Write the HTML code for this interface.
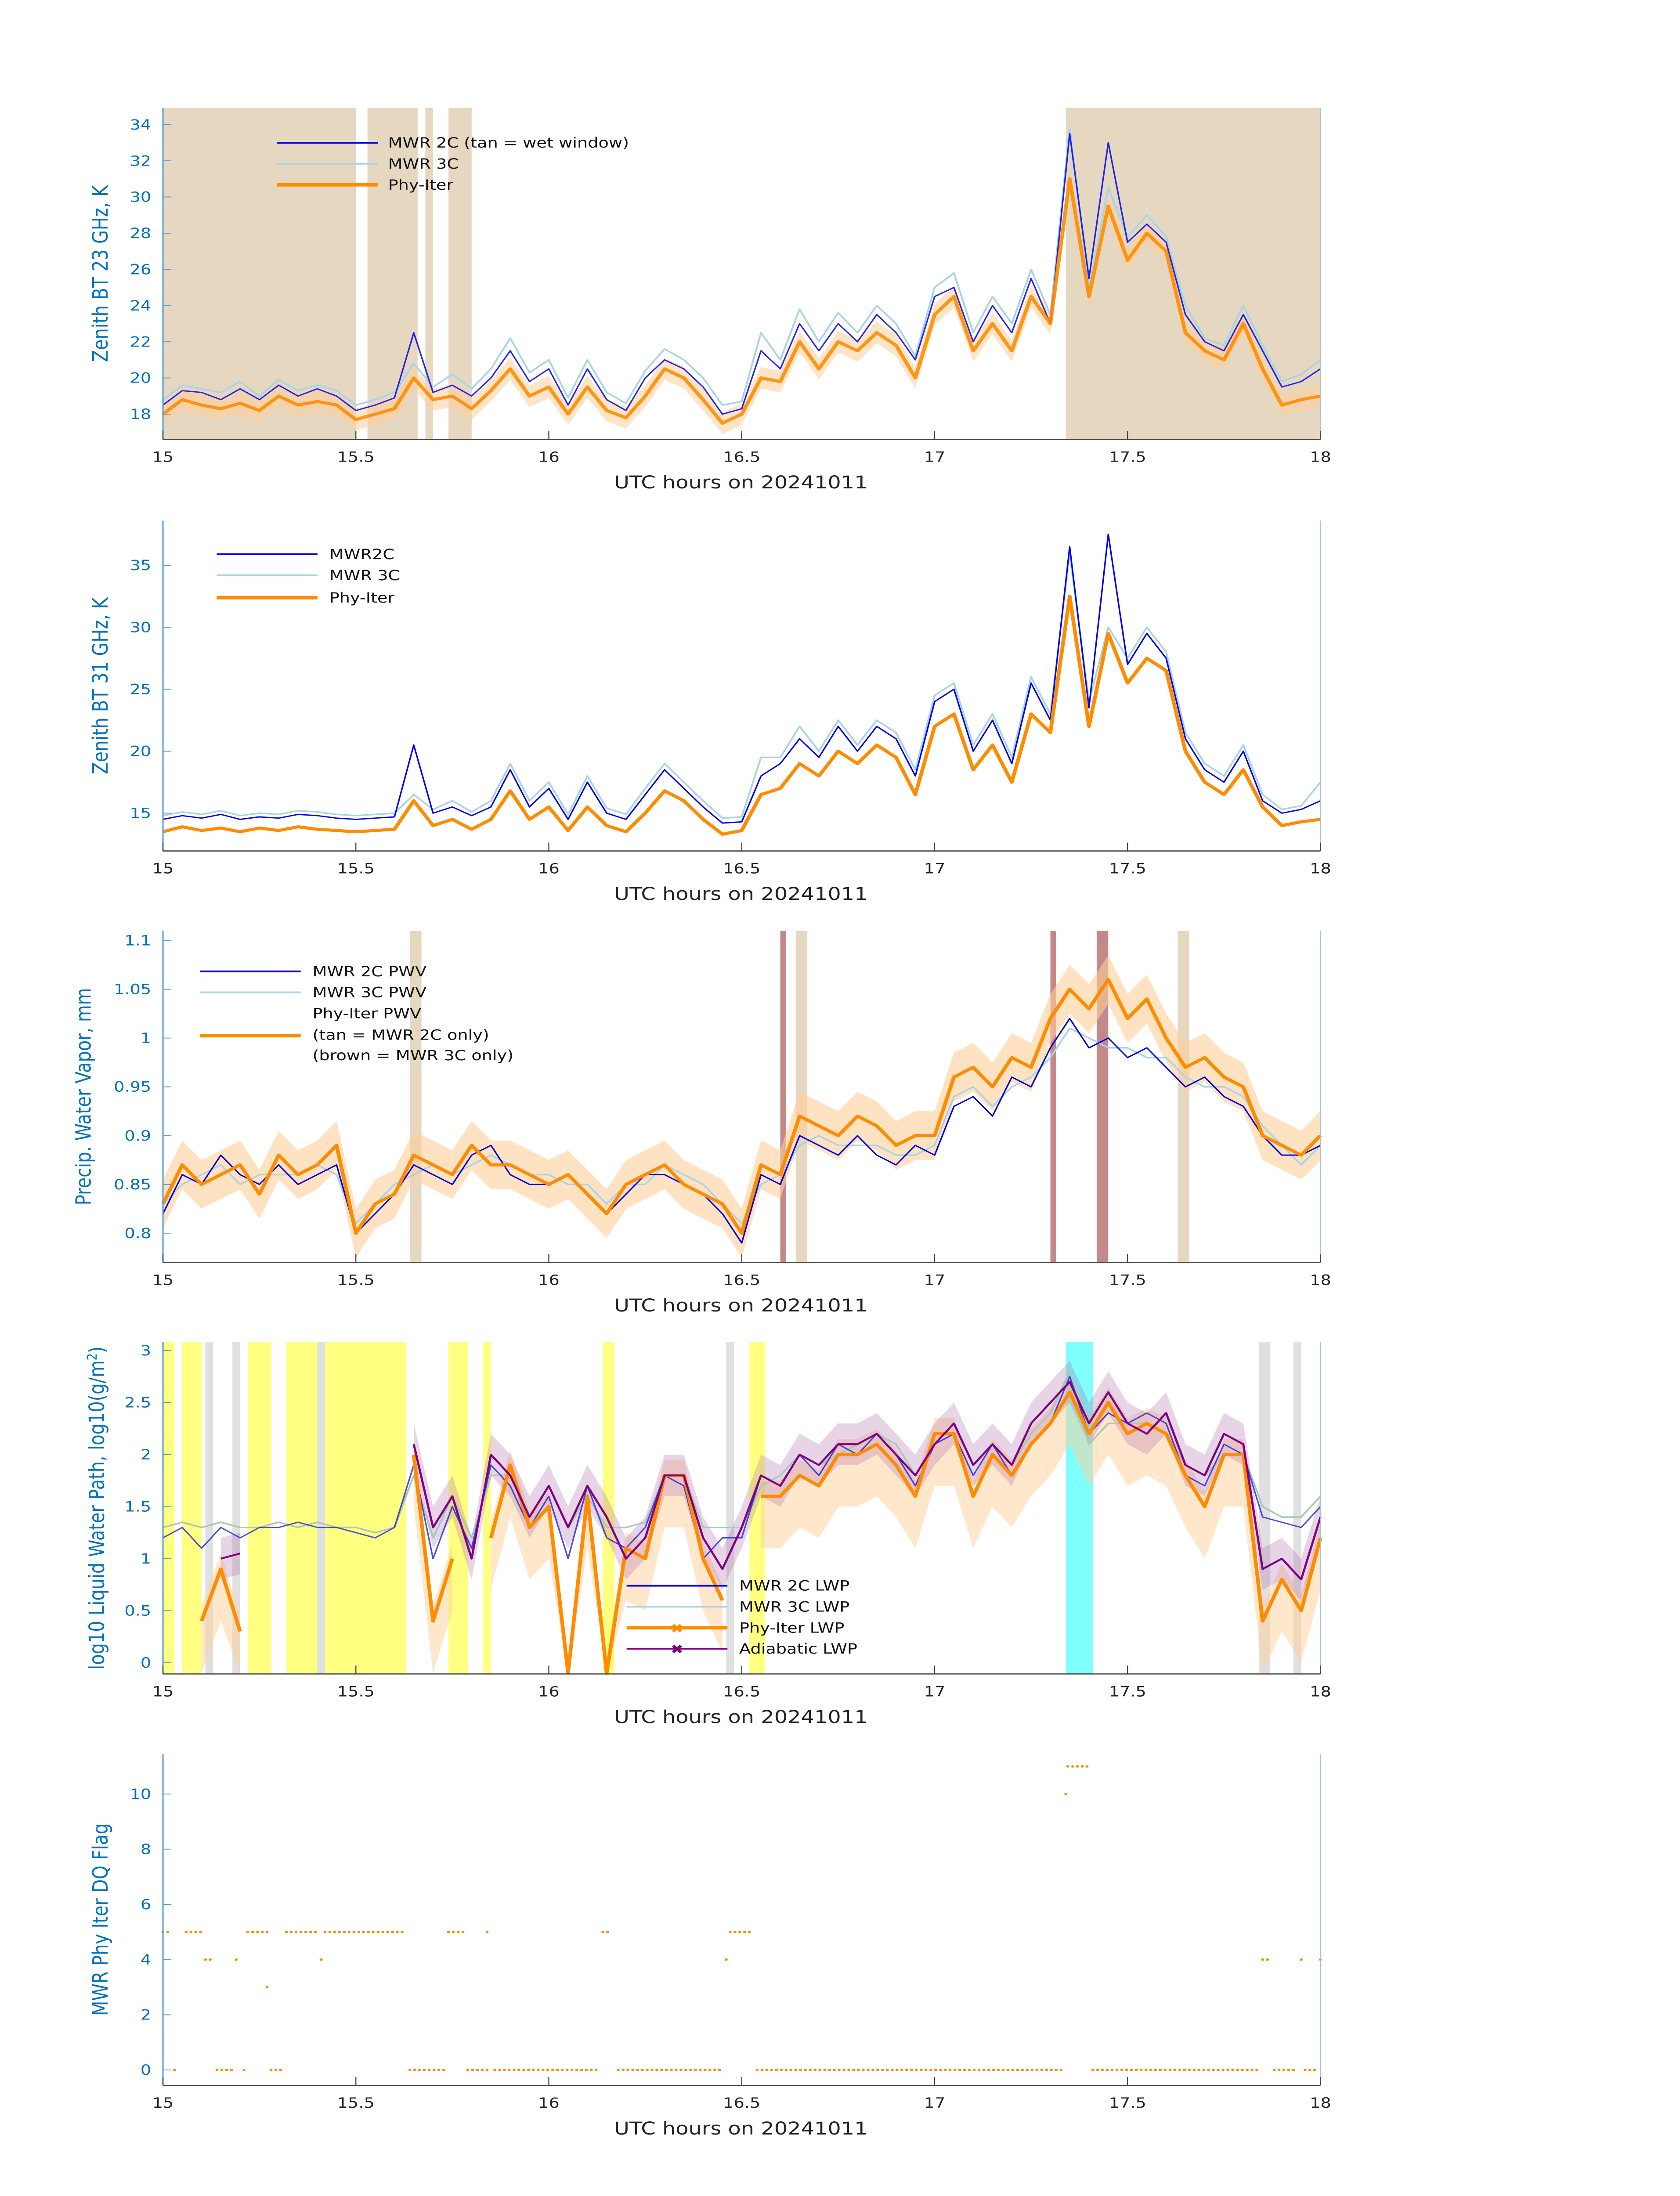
<!DOCTYPE html>
<html><head><meta charset="utf-8"><style>
html,body{margin:0;padding:0;background:#fff;width:100vw;height:100vh;overflow:hidden}
svg{display:block;position:absolute;left:0;top:0;width:100vw;height:100vh}
text{font-family:"DejaVu Sans","Liberation Sans",sans-serif}
</style></head><body>
<svg id="fig" xmlns="http://www.w3.org/2000/svg" viewBox="0 0 1000 1569" preserveAspectRatio="none"></svg>
<script>
const bt23Phy=[18.0,18.8,18.5,18.3,18.6,18.2,19.0,18.5,18.7,18.5,17.7,18.0,18.3,20.0,18.8,19.0,18.3,19.3,20.5,19.0,19.5,18.0,19.5,18.2,17.8,19.0,20.5,20.0,18.8,17.5,18.0,20.0,19.8,22.0,20.5,22.0,21.5,22.5,21.8,20.0,23.5,24.5,21.5,23.0,21.5,24.5,23.0,31.0,24.5,29.5,26.5,28.0,27.0,22.5,21.5,21.0,23.0,20.5,18.5,18.8,19.0];
const bt23M2=[18.5,19.3,19.2,18.8,19.4,18.8,19.6,19.0,19.4,19.0,18.2,18.5,18.9,22.5,19.2,19.6,19.0,20.0,21.5,19.8,20.5,18.5,20.5,18.8,18.2,20.0,21.0,20.5,19.5,18.0,18.3,21.5,20.5,23.0,21.5,23.0,22.0,23.5,22.5,21.0,24.5,25.0,22.0,24.0,22.5,25.5,23.0,33.5,25.5,33.0,27.5,28.5,27.5,23.5,22.0,21.5,23.5,21.5,19.5,19.8,20.5];
const bt23M3=[18.8,19.6,19.4,19.2,19.8,19.0,19.9,19.3,19.6,19.3,18.5,18.8,19.2,20.8,19.5,20.2,19.4,20.5,22.2,20.3,21.0,18.9,21.0,19.2,18.6,20.4,21.6,21.0,20.0,18.5,18.7,22.5,21.0,23.8,22.0,23.6,22.5,24.0,23.0,21.2,25.0,25.8,22.5,24.5,23.0,26.0,23.5,33.8,25.0,30.5,27.8,29.0,27.8,24.0,22.2,21.8,24.0,21.8,19.8,20.2,21.0];
const bt31Phy=[13.5,13.9,13.6,13.8,13.5,13.8,13.6,13.9,13.7,13.6,13.5,13.6,13.7,16.0,14.0,14.5,13.7,14.5,16.8,14.5,15.5,13.6,15.5,14.0,13.5,15.0,16.8,16.0,14.5,13.3,13.6,16.5,17.0,19.0,18.0,20.0,19.0,20.5,19.5,16.5,22.0,23.0,18.5,20.5,17.5,23.0,21.5,32.5,22.0,29.5,25.5,27.5,26.5,20.0,17.5,16.5,18.5,15.5,14.0,14.3,14.5];
const bt31M2=[14.5,14.8,14.6,14.9,14.5,14.7,14.6,14.9,14.8,14.6,14.5,14.6,14.7,20.5,15.0,15.5,14.8,15.5,18.5,15.5,17.0,14.5,17.5,15.0,14.5,16.5,18.5,17.0,15.5,14.2,14.3,18.0,19.0,21.0,19.5,22.0,20.0,22.0,21.0,18.0,24.0,25.0,20.0,22.5,19.0,25.5,22.5,36.5,23.5,37.5,27.0,29.5,27.5,21.0,18.5,17.5,20.0,16.0,15.0,15.3,16.0];
const bt31M3=[14.8,15.1,14.9,15.2,14.8,15.0,14.9,15.2,15.1,14.9,14.8,14.9,15.0,16.5,15.3,16.0,15.1,16.0,19.0,16.0,17.5,14.9,18.0,15.4,14.9,17.0,19.0,17.5,16.0,14.6,14.7,19.5,19.5,22.0,20.0,22.5,20.5,22.5,21.5,18.5,24.5,25.5,20.5,23.0,19.5,26.0,23.0,36.0,24.0,30.0,27.5,30.0,28.0,21.5,19.0,18.0,20.5,16.5,15.3,15.6,17.5];
const pwvPhy=[0.83,0.87,0.85,0.86,0.87,0.84,0.88,0.86,0.87,0.89,0.80,0.83,0.84,0.88,0.87,0.86,0.89,0.87,0.87,0.86,0.85,0.86,0.84,0.82,0.85,0.86,0.87,0.85,0.84,0.83,0.80,0.87,0.86,0.92,0.91,0.90,0.92,0.91,0.89,0.90,0.90,0.96,0.97,0.95,0.98,0.97,1.02,1.05,1.03,1.06,1.02,1.04,1.00,0.97,0.98,0.96,0.95,0.90,0.89,0.88,0.90];
const pwvM2=[0.82,0.86,0.85,0.88,0.86,0.85,0.87,0.85,0.86,0.87,0.80,0.82,0.84,0.87,0.86,0.85,0.88,0.89,0.86,0.85,0.85,0.86,0.84,0.82,0.84,0.86,0.86,0.85,0.84,0.82,0.79,0.86,0.85,0.90,0.89,0.88,0.90,0.88,0.87,0.89,0.88,0.93,0.94,0.92,0.96,0.95,0.99,1.02,0.99,1.00,0.98,0.99,0.97,0.95,0.96,0.94,0.93,0.90,0.88,0.88,0.89];
const pwvM3=[0.83,0.85,0.86,0.87,0.85,0.86,0.86,0.86,0.87,0.86,0.81,0.83,0.85,0.86,0.87,0.86,0.87,0.88,0.87,0.86,0.86,0.85,0.85,0.83,0.85,0.85,0.87,0.86,0.85,0.83,0.81,0.85,0.86,0.89,0.90,0.89,0.89,0.89,0.88,0.88,0.89,0.94,0.95,0.93,0.95,0.96,0.98,1.01,1.00,0.99,0.99,0.98,0.98,0.96,0.95,0.95,0.94,0.91,0.89,0.87,0.89];
const lwpM2=[1.2,1.3,1.1,1.3,1.2,1.3,1.3,1.35,1.3,1.3,1.25,1.2,1.3,1.9,1.0,1.5,1.1,1.9,1.7,1.3,1.6,1.0,1.7,1.2,1.1,1.3,1.8,1.7,1.0,1.2,1.2,1.8,1.7,2.0,1.8,2.1,2.0,2.2,2.0,1.7,2.1,2.2,1.8,2.1,1.8,2.1,2.3,2.75,2.2,2.4,2.3,2.4,2.3,1.8,1.7,2.1,2.0,1.4,1.35,1.3,1.5];
const lwpM3=[1.3,1.35,1.3,1.35,1.3,1.3,1.35,1.3,1.35,1.3,1.3,1.25,1.3,1.8,1.2,1.6,1.2,1.8,1.8,1.4,1.7,1.3,1.6,1.3,1.3,1.35,1.8,1.8,1.3,1.3,1.3,1.7,1.8,2.0,1.9,2.0,2.1,2.2,2.1,1.8,2.1,2.3,1.9,2.1,1.9,2.2,2.4,2.8,2.1,2.3,2.3,2.3,2.2,1.9,1.8,2.0,2.0,1.5,1.4,1.4,1.6];
const lwpAdi=[null,null,null,1.0,1.05,null,2.0,null,null,null,null,null,null,2.1,1.3,1.6,1.0,2.0,1.8,1.4,1.7,1.3,1.7,1.4,1.0,1.2,1.8,1.8,1.2,0.9,1.3,1.8,1.7,2.0,1.9,2.1,2.1,2.2,2.0,1.8,2.1,2.3,1.9,2.1,1.9,2.3,2.5,2.7,2.3,2.6,2.3,2.2,2.4,1.9,1.8,2.2,2.1,0.9,1.0,0.8,1.4];
const lwpPhy=[null,null,0.4,0.9,0.3,null,0.0,null,null,null,null,null,null,2.0,0.4,1.0,null,1.2,1.9,1.3,1.5,-0.1,1.6,-0.1,1.1,1.0,1.8,1.8,1.0,0.6,null,1.6,1.6,1.8,1.7,2.0,2.0,2.1,1.9,1.6,2.2,2.2,1.6,2.0,1.8,2.1,2.3,2.6,2.2,2.5,2.2,2.3,2.2,1.8,1.5,2.0,2.0,0.4,0.8,0.5,1.2];
const dqStart=[15.00,15.03,15.06,15.11,15.14,15.19,15.21,15.22,15.27,15.28,15.32,15.41,15.42,15.64,15.74,15.79,15.84,15.86,16.14,16.18,16.46,16.47,16.54,17.34,17.345,17.41,17.85,17.88,17.95,17.96,18.00];
const dqEnd  =[15.02,15.04,15.10,15.13,15.18,15.20,15.22,15.27,15.27,15.31,15.40,15.41,15.62,15.73,15.78,15.84,15.84,16.13,16.16,16.45,16.46,16.52,17.33,17.34,17.40,17.84,17.87,17.93,17.95,17.99,18.00];
const dqVal  =[5,0,5,4,0,4,0,5,3,0,5,4,5,0,5,0,5,0,5,0,4,5,0,10,11,0,4,0,4,0,4];
const xTicks=[15,15.5,16,16.5,17,17.5,18];
const xTickLabels=["15","15.5","16","16.5","17","17.5","18"];

const NS="http://www.w3.org/2000/svg";
const svg=document.getElementById('fig');
function mk(tag,attrs,parent){const e=document.createElementNS(NS,tag);for(const k in attrs)e.setAttribute(k,attrs[k]);(parent||svg).appendChild(e);return e;}
const X0=97,X1=786;
function X(t){return X0+(t-15)/3*(X1-X0);}
function tAt(i,n){return 15+3*i/(n-1);}
function panel(cfg){
  const g=mk('g',{});
  
  
  const Y=v=>cfg.bot-(v-cfg.ymin)/(cfg.ymax-cfg.ymin)*(cfg.bot-cfg.top);
  cfg.Y=Y;cfg.g=g;
  return cfg;
}
function spans(cfg,list,color,name,op){
  list.forEach(s=>{const r=mk('rect',{x:X(s[0]),y:cfg.top,width:Math.max(1,X(s[1])-X(s[0])),height:cfg.bot-cfg.top,fill:color,opacity:op||1},cfg.g);
  
  });
}
function pathFrom(cfg,arr){let d='',pen=false;arr.forEach((v,i)=>{if(v===null){pen=false;return;}d+=(pen?'L':'M')+X(tAt(i,arr.length)).toFixed(2)+','+cfg.Y(v).toFixed(2);pen=true;});return d;}
function line(cfg,arr,color,w,name,op){const p=mk('path',{d:pathFrom(cfg,arr),fill:'none',stroke:color,'stroke-width':w,'stroke-linejoin':'round',opacity:op||1},cfg.g);
  
  }
function band(cfg,arr,lo,hi,color,op,name){
  let seg=[];const segs=[];arr.forEach((v,i)=>{if(v===null){if(seg.length)segs.push(seg);seg=[];}else seg.push(i);});if(seg.length)segs.push(seg);
  segs.forEach(s=>{let d='';s.forEach((i,k)=>{d+=(k?'L':'M')+X(tAt(i,arr.length))+','+cfg.Y(arr[i]+hi);});
    for(let k=s.length-1;k>=0;k--){const i=s[k];d+='L'+X(tAt(i,arr.length))+','+cfg.Y(Math.max(cfg.ymin,arr[i]-lo));}d+='Z';
    const p=mk('path',{d:d,fill:color,opacity:op,stroke:'none'},cfg.g);
    
    });
}
function axes(cfg,yt,ylab,ylx){
  const g=cfg.g;
  const l=mk('line',{x1:X0,y1:cfg.top,x2:X0,y2:cfg.bot,stroke:'#5a9bd5','stroke-width':0.8},g);
  
  const r=mk('line',{x1:X1,y1:cfg.top,x2:X1,y2:cfg.bot,stroke:'#9cc3e6','stroke-width':0.8},g);
  
  const b=mk('line',{x1:X0,y1:cfg.bot,x2:X1,y2:cfg.bot,stroke:'#444','stroke-width':0.8},g);
  
  xTicks.forEach((t,i)=>{mk('line',{x1:X(t),y1:cfg.bot,x2:X(t),y2:cfg.bot-6,stroke:'#444','stroke-width':0.6},g);
    const tx=mk('text',{x:X(t),y:cfg.bot+16,'font-size':10,'text-anchor':'middle',fill:'#222'},g);tx.textContent=xTickLabels[i];
    });
  yt.forEach(v=>{mk('line',{x1:X0,y1:cfg.Y(v),x2:X0+5,y2:cfg.Y(v),stroke:'#5a9bd5','stroke-width':0.6},g);
    const tx=mk('text',{x:X0-7,y:cfg.Y(v)+3.5,'font-size':10,'text-anchor':'end',fill:'#0072bd'},g);tx.textContent=String(v);
    });
  const xl=mk('text',{x:441,y:cfg.bot+35,'font-size':12.5,'text-anchor':'middle',fill:'#222'},g);xl.textContent='UTC hours on 20241011';
  
  const cy=(cfg.top+cfg.bot)/2;
  const yl=mk('text',{x:ylx,y:cy,'font-size':12.5,'text-anchor':'middle',fill:'#0072bd',transform:`rotate(-90 ${ylx} ${cy})`},g);
  yl.innerHTML=ylab;
  
}
function legend(cfg,items,lx,tx){
  items.forEach(it=>{
    if(it.c){const l=mk('line',{x1:lx,y1:it.y,x2:lx+60,y2:it.y,stroke:it.c,'stroke-width':it.w},cfg.g);
      
      if(it.m){const m=mk('text',{x:lx+30,y:it.y+3.5,'font-size':9,'text-anchor':'middle',fill:it.c,'font-weight':'bold'},cfg.g);m.textContent='✖';}}
    const t=mk('text',{x:tx,y:it.ty||it.y+3.5,'font-size':10,fill:'#111'},cfg.g);t.textContent=it.t;
    
  });
}
const TAN='#e6d7c1';
const p1=panel({name:'panel-bt23',top:77,bot:314,ymin:16.6,ymax:34.93});
spans(p1,[[15,15.5],[15.53,15.66],[15.68,15.7],[15.74,15.8],[17.34,18]],TAN,'wet-window-span');
band(p1,bt23Phy,0.6,0.6,'#ffcf9a',0.55,'phy-iter-uncertainty');
line(p1,bt23M3,'#a8d4e6',1.1,'mwr3c-line');
line(p1,bt23M2,'#0000ee',0.9,'mwr2c-line',0.85);
line(p1,bt23Phy,'#ff8c00',2.2,'phy-iter-line',0.9);
axes(p1,[18,20,22,24,26,28,30,32,34],'Zenith BT 23 GHz, K',64);
legend(p1,[{c:'#0000ee',w:1.2,y:102,t:'MWR 2C (tan = wet window)'},{c:'#a8d4e6',w:1.2,y:117,t:'MWR 3C'},{c:'#ff8c00',w:2.5,y:132,t:'Phy-Iter'}],165,231);
const p2=panel({name:'panel-bt31',top:372,bot:608,ymin:11.95,ymax:38.6});
line(p2,bt31M3,'#a8d4e6',1.1,'mwr3c-line');
line(p2,bt31M2,'#0000ee',0.9,'mwr2c-line');
line(p2,bt31Phy,'#ff8c00',2.2,'phy-iter-line');
axes(p2,[15,20,25,30,35],'Zenith BT 31 GHz, K',64);
legend(p2,[{c:'#0000ee',w:1.2,y:396,t:'MWR2C'},{c:'#a8d4e6',w:1.2,y:411,t:'MWR 3C'},{c:'#ff8c00',w:2.5,y:427,t:'Phy-Iter'}],129,196);
const p3=panel({name:'panel-pwv',top:665,bot:902,ymin:0.77,ymax:1.11});
spans(p3,[[15.64,15.67],[16.64,16.67],[17.63,17.66]],TAN,'mwr2c-only-span');
spans(p3,[[16.6,16.615],[17.3,17.315],[17.42,17.45]],'#b97373','mwr3c-only-span',0.85);
band(p3,pwvPhy,0.025,0.025,'#ffcf9a',0.6,'phy-iter-uncertainty');
line(p3,pwvM3,'#a8d4e6',1.1,'mwr3c-pwv-line');
line(p3,pwvM2,'#0000dd',0.9,'mwr2c-pwv-line');
line(p3,pwvPhy,'#ff8c00',2.2,'phy-iter-pwv-line');
axes(p3,[0.8,0.85,0.9,0.95,1,1.05,1.1],'Precip. Water Vapor, mm',54);
legend(p3,[{c:'#0000ee',w:1.2,y:694,t:'MWR 2C PWV'},{c:'#a8d4e6',w:1.2,y:709,t:'MWR 3C PWV'},{y:724,t:'Phy-Iter PWV'},{c:'#ff8c00',w:2.5,y:740,ty:743,t:'(tan = MWR 2C only)'},{y:754,t:'(brown = MWR 3C only)'}],119,186);
const p4=panel({name:'panel-lwp',top:959,bot:1196,ymin:-0.108,ymax:3.08});
spans(p4,[[15,15.03],[15.05,15.1],[15.22,15.28],[15.32,15.63],[15.74,15.79],[15.83,15.85],[16.14,16.17],[16.52,16.56]],'#ffff80','low-confidence-span');
spans(p4,[[15.11,15.13],[15.18,15.2],[15.4,15.42],[16.46,16.48],[17.84,17.87],[17.93,17.95]],'#e0e0e0','gray-span');
spans(p4,[[17.34,17.41]],'#80ffff','cyan-span');
band(p4,lwpPhy,0.5,0.15,'#ffcf9a',0.5,'phy-iter-uncertainty');
band(p4,lwpAdi,0.2,0.2,'#b070b0',0.3,'adiabatic-uncertainty');
line(p4,lwpM3,'#a8c8b8',1.1,'mwr3c-lwp-line');
line(p4,lwpM2,'#2020dd',0.9,'mwr2c-lwp-line',0.8);
line(p4,lwpPhy,'#ff8c00',2.2,'phy-iter-lwp-line');
line(p4,lwpAdi,'#800080',1.3,'adiabatic-lwp-line');
axes(p4,[0,0.5,1,1.5,2,2.5,3],'log10 Liquid Water Path, log10(g/m<tspan baseline-shift="super" font-size="8">2</tspan>)',62);
legend(p4,[{c:'#0000ee',w:1.2,y:1133,t:'MWR 2C LWP'},{c:'#a8d4e6',w:1.2,y:1148,t:'MWR 3C LWP'},{c:'#ff8c00',w:2.5,y:1163,t:'Phy-Iter LWP',m:1},{c:'#800080',w:1.2,y:1178,t:'Adiabatic LWP',m:1}],373,440);
const p5=panel({name:'panel-dq-flag',top:1253,bot:1490,ymin:-0.56,ymax:11.46});
dqStart.forEach((s,k)=>{for(let t=s;t<=dqEnd[k]+1e-6;t+=0.0125){const c=mk('circle',{cx:X(t),cy:p5.Y(dqVal[k]),r:0.9,fill:'#ff8c00'},p5.g);
  
  }});
axes(p5,[0,2,4,6,8,10],'MWR Phy Iter DQ Flag',64);
</script>
</body></html>
